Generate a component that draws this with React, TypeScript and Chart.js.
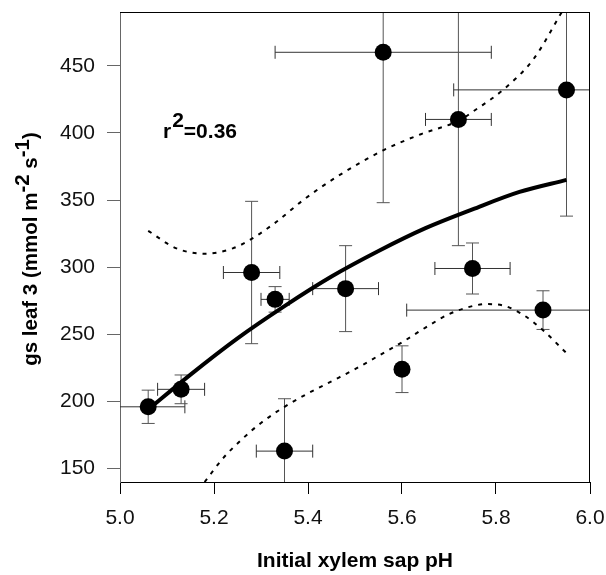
import { useEffect, useRef } from 'react';
import { Chart, registerables } from 'chart.js';
Chart.register(...registerables);

// Observations: initial xylem sap pH vs gs leaf 3, with SE bars
const phX = [5.06, 5.13, 5.28, 5.33, 5.35, 5.48, 5.6, 5.75, 5.9, 5.56, 5.72, 5.95];
const gsY = [196, 209, 296, 276, 163, 284, 224, 299, 268, 460, 410, 432];
const phErr = [0.078, 0.05, 0.06, 0.03, 0.06, 0.07, 0, 0.08, 0.29, 0.23, 0.07, 0.24];
const gsErr = [12.4, 10.7, 53, 9.5, 39, 32, 17.4, 19, 14.4, 112, 94, 94];

// Regression curve (solid)
const fitX = [5.06, 5.15, 5.25, 5.35, 5.45, 5.55, 5.65, 5.75, 5.85, 5.95];
const fitY = [194, 220, 247, 271, 293, 312, 329, 343, 356, 365];

// Confidence bands (dotted)
const upperX = [5.06, 5.12, 5.18, 5.24, 5.28, 5.33, 5.39, 5.46, 5.56, 5.64, 5.72, 5.76, 5.815, 5.88, 5.94, 5.95];
const upperY = [327, 314, 310, 314, 321, 333, 350, 367, 387, 399, 409, 418, 432, 455, 490, 496];
const lowerX = [5.18, 5.22, 5.26, 5.3, 5.35, 5.4, 5.45, 5.5, 5.55, 5.6, 5.65, 5.7, 5.75, 5.78, 5.82, 5.86, 5.9, 5.95];
const lowerY = [140, 158, 172, 184, 196, 206, 215, 224, 234, 244, 255, 265, 271, 272.5, 271, 264, 253, 236];

const xTickValues = [5.0, 5.2, 5.4, 5.6, 5.8, 6.0];
const yTickValues = [150, 200, 250, 300, 350, 400, 450];

const xTitle = 'Initial xylem sap pH';
const yTitleParts = [
  { t: 'gs leaf 3 (mmol m', sup: false },
  { t: '-2', sup: true },
  { t: ' s', sup: false },
  { t: '-1', sup: true },
  { t: ')', sup: false },
];
const r2Label = { base: 'r', sup: '2', rest: '=0.36' };

const FONT = "'Liberation Sans', Arial, Helvetica, sans-serif";

const toPts = (xs: number[], ys: number[]) => xs.map((x, i) => ({ x, y: ys[i] }));

const errorBarPlugin = {
  id: 'errorBars',
  beforeDatasetsDraw(chart: any) {
    const { ctx, chartArea, scales } = chart;
    const xs = scales.x;
    const ys = scales.y;
    ctx.save();
    ctx.beginPath();
    ctx.rect(chartArea.left, chartArea.top, chartArea.right - chartArea.left, chartArea.bottom - chartArea.top);
    ctx.clip();
    ctx.lineWidth = 1;
    const cap = 6.5;
    for (let i = 0; i < phX.length; i++) {
      const px = xs.getPixelForValue(phX[i]);
      const py = ys.getPixelForValue(gsY[i]);
      ctx.strokeStyle = '#555';
      const yTop = ys.getPixelForValue(gsY[i] + gsErr[i]);
      const yBot = ys.getPixelForValue(gsY[i] - gsErr[i]);
      ctx.beginPath();
      ctx.moveTo(px, yTop);
      ctx.lineTo(px, yBot);
      ctx.moveTo(px - cap, yTop);
      ctx.lineTo(px + cap, yTop);
      ctx.moveTo(px - cap, yBot);
      ctx.lineTo(px + cap, yBot);
      ctx.stroke();
      if (phErr[i] > 0) {
        ctx.strokeStyle = '#333';
        const xL = xs.getPixelForValue(phX[i] - phErr[i]);
        const xR = xs.getPixelForValue(phX[i] + phErr[i]);
        ctx.beginPath();
        ctx.moveTo(xL, py);
        ctx.lineTo(xR, py);
        ctx.moveTo(xL, py - cap);
        ctx.lineTo(xL, py + cap);
        ctx.moveTo(xR, py - cap);
        ctx.lineTo(xR, py + cap);
        ctx.stroke();
      }
    }
    ctx.restore();
  },
};

const annotationPlugin = {
  id: 'annotations',
  afterDraw(chart: any) {
    const { ctx, chartArea } = chart;
    ctx.save();
    // top & right frame
    ctx.strokeStyle = '#000';
    ctx.lineWidth = 1;
    ctx.beginPath();
    ctx.moveTo(chartArea.left, Math.round(chartArea.top) + 0.5);
    ctx.lineTo(chartArea.right, Math.round(chartArea.top) + 0.5);
    ctx.moveTo(Math.round(chartArea.right) - 0.5, chartArea.top);
    ctx.lineTo(Math.round(chartArea.right) - 0.5, chartArea.bottom);
    ctx.stroke();

    // y axis title with superscripts
    ctx.fillStyle = '#000';
    ctx.font = `bold 20.5px ${FONT}`;
    ctx.textBaseline = 'alphabetic';
    ctx.textAlign = 'left';
    const total = yTitleParts.reduce((s, p) => s + ctx.measureText(p.t).width, 0);
    const cy = (chartArea.top + chartArea.bottom) / 2 + 2;
    ctx.translate(37, cy);
    ctx.rotate(-Math.PI / 2);
    let cx = -total / 2;
    for (const p of yTitleParts) {
      ctx.fillText(p.t, cx, p.sup ? -8 : 0);
      cx += ctx.measureText(p.t).width;
    }
    ctx.setTransform(1, 0, 0, 1, 0, 0);

    // r^2 annotation
    ctx.font = `bold 21px ${FONT}`;
    const ax = 163;
    const ay = 138;
    ctx.fillText(r2Label.base, ax, ay);
    const rw = ctx.measureText(r2Label.base).width;
    ctx.fillText(r2Label.sup, ax + rw + 1, ay - 11);
    const sw = ctx.measureText(r2Label.sup).width;
    ctx.fillText(r2Label.rest, ax + rw + sw + 1, ay);
    ctx.restore();
  },
};

export default function App() {
  const ref = useRef<HTMLCanvasElement | null>(null);
  useEffect(() => {
    document.body.style.margin = '0';
    const canvas = ref.current;
    if (!canvas) return;
    const chart = new Chart(canvas, {
      type: 'scatter',
      data: {
        datasets: [
          {
            label: 'gs leaf 3',
            data: toPts(phX, gsY),
            pointRadius: 8.5,
            pointBackgroundColor: '#000',
            pointBorderWidth: 0,
            borderColor: '#000',
            showLine: false,
          },
          {
            label: 'fit',
            type: 'line',
            data: toPts(fitX, fitY),
            borderColor: '#000',
            borderWidth: 4,
            pointRadius: 0,
            cubicInterpolationMode: 'monotone',
            fill: false,
          },
          {
            label: 'upper',
            type: 'line',
            data: toPts(upperX, upperY),
            borderColor: '#000',
            borderWidth: 2,
            borderDash: [4, 6],
            pointRadius: 0,
            cubicInterpolationMode: 'monotone',
            fill: false,
          },
          {
            label: 'lower',
            type: 'line',
            data: toPts(lowerX, lowerY),
            borderColor: '#000',
            borderWidth: 2,
            borderDash: [4, 6],
            pointRadius: 0,
            cubicInterpolationMode: 'monotone',
            fill: false,
          },
        ],
      },
      options: {
        animation: false,
        responsive: false,
        devicePixelRatio: 1,
        layout: { padding: { left: 0, top: 12, right: 16, bottom: 0 } },
        plugins: {
          legend: { display: false },
          tooltip: { enabled: false },
        },
        scales: {
          x: {
            type: 'linear',
            min: 5.0,
            max: 6.0,
            afterBuildTicks: (s: any) => {
              s.ticks = xTickValues.map((value) => ({ value }));
            },
            afterFit: (s: any) => {
              s.height = 93;
              s.paddingLeft = 0;
              s.paddingRight = 0;
              s.paddingTop = 0;
              s.paddingBottom = 0;
            },
            grid: { display: true, drawOnChartArea: false, drawTicks: true, tickLength: 12, color: '#000', lineWidth: 1 },
            border: { display: true, color: '#000', width: 1 },
            ticks: {
              font: { family: FONT, size: 21, lineHeight: 1 },
              color: '#111',
              padding: 14,
              maxRotation: 0,
              autoSkip: false,
              callback: (v: any) => Number(v).toFixed(1),
            },
            title: {
              display: true,
              text: xTitle,
              color: '#000',
              font: { family: FONT, size: 21, weight: 'bold', lineHeight: 1 },
              padding: { top: 0, bottom: 3 },
            },
          },
          y: {
            type: 'linear',
            min: 140,
            max: 490,
            afterBuildTicks: (s: any) => {
              s.ticks = yTickValues.map((value) => ({ value }));
            },
            afterFit: (s: any) => {
              s.width = 120;
              s.paddingLeft = 0;
              s.paddingRight = 0;
              s.paddingTop = 0;
              s.paddingBottom = 0;
            },
            grid: { display: true, drawOnChartArea: false, drawTicks: true, tickLength: 13, color: '#666', lineWidth: 1 },
            border: { display: true, color: '#666', width: 1 },
            ticks: {
              font: { family: FONT, size: 21, lineHeight: 1 },
              color: '#111',
              padding: 12,
              autoSkip: false,
              callback: (v: any) => String(v),
            },
          },
        },
      },
      plugins: [errorBarPlugin, annotationPlugin],
    });
    return () => chart.destroy();
  }, []);
  return <canvas ref={ref} width={606} height={575} style={{ display: 'block' }} />;
}
